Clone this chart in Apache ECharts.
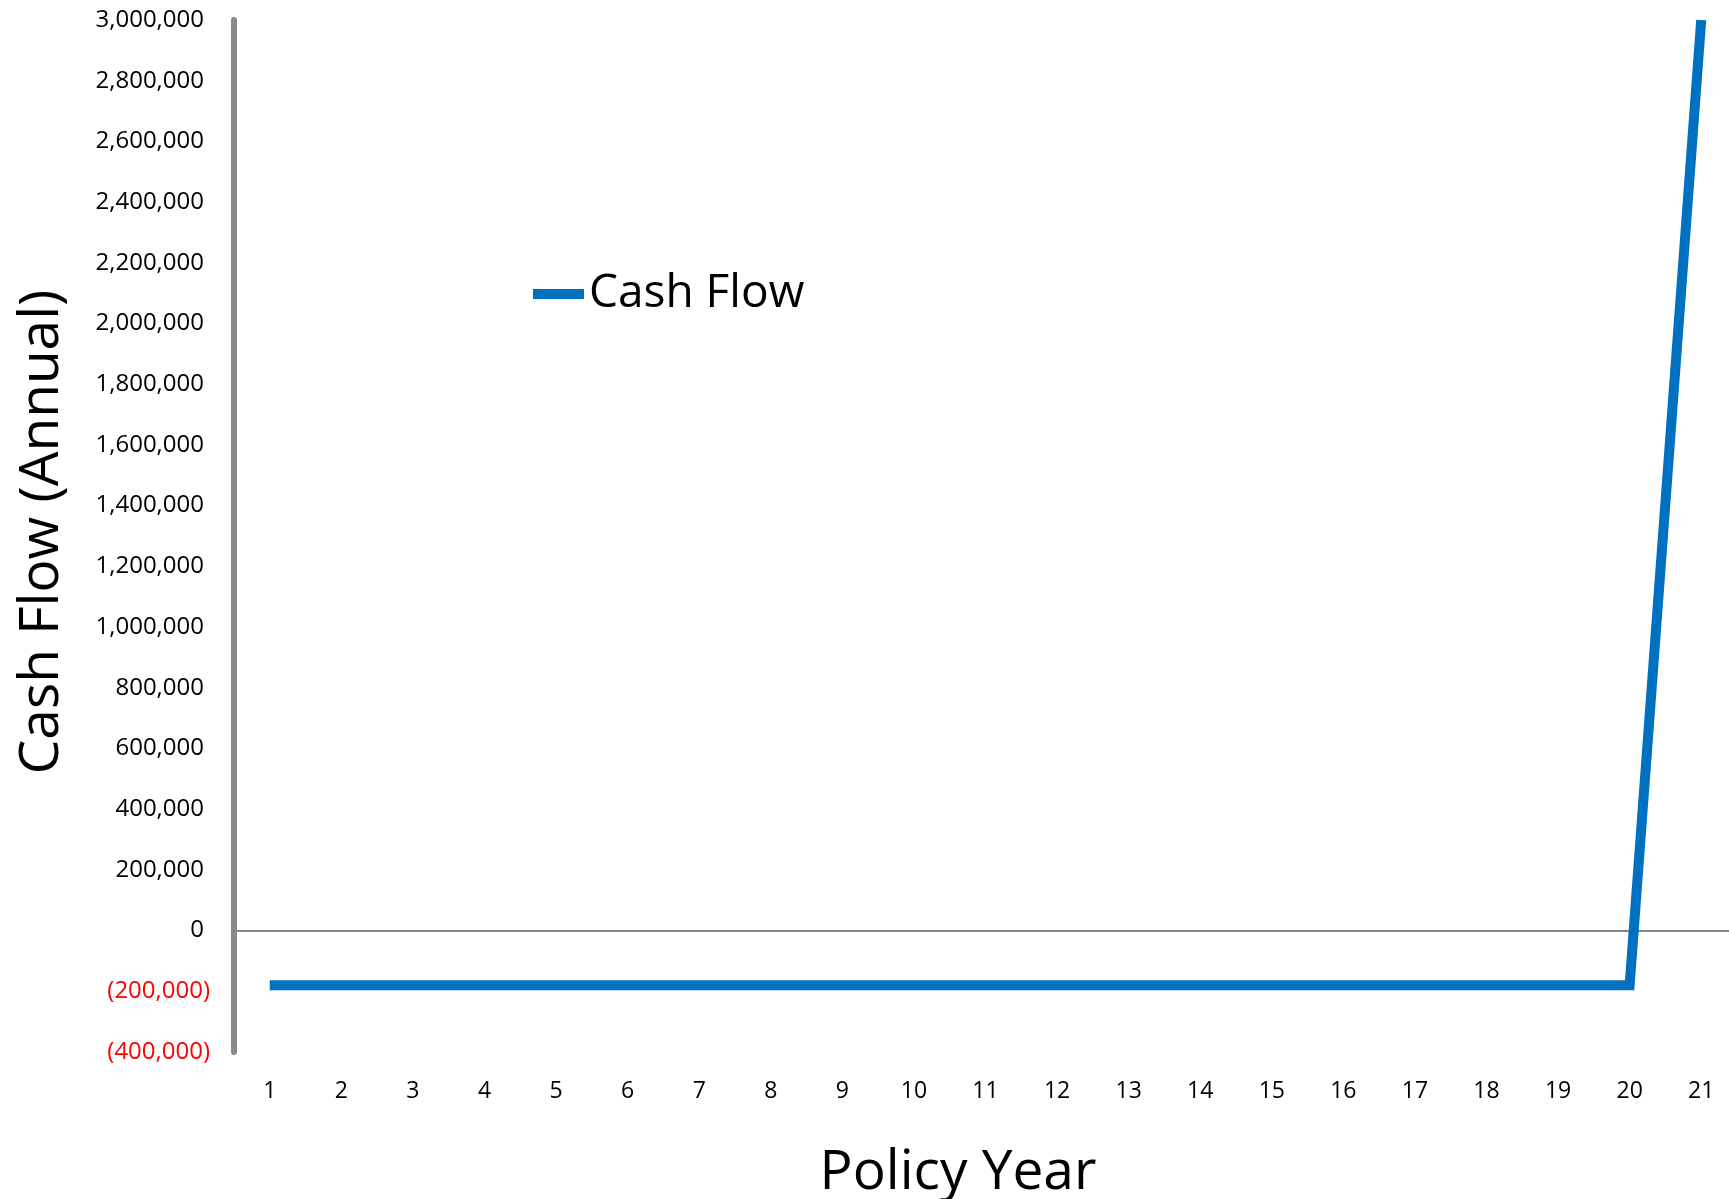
<!DOCTYPE html>
<html>
<head>
<meta charset="utf-8">
<title>Cash Flow (Annual)</title>
<script src="https://cdn.jsdelivr.net/npm/echarts@6/dist/echarts.min.js"></script>
<style>
  html, body { margin: 0; padding: 0; background: #ffffff; }
  #chart { width: 1729px; height: 1199px; }
</style>
</head>
<body>
<div id="chart"></div>
<script>
// Policy years on the category axis
const policyYears = ['1','2','3','4','5','6','7','8','9','10','11','12','13','14','15','16','17','18','19','20','21'];
// Annual cash flow per policy year
const cashFlow = [
  -180000, -180000, -180000, -180000, -180000, -180000, -180000,
  -180000, -180000, -180000, -180000, -180000, -180000, -180000,
  -180000, -180000, -180000, -180000, -180000, -180000, 3000000
];
// Value axis range
const yMin = -400000;
const yMax = 3000000;
const yStep = 200000;

const fmtNumber = v => Math.abs(v).toString().replace(/\B(?=(\d{3})+(?!\d))/g, ',');

const chart = echarts.init(document.getElementById('chart'), null, { renderer: 'canvas' });

chart.setOption({
  backgroundColor: '#ffffff',
  animation: false,
  grid: {
    left: 234, top: 20, width: 1503, height: 1032,
    containLabel: false,
    outerBoundsMode: 'none'
  },
  legend: {
    left: 528,
    top: 266,
    itemWidth: 51,
    itemHeight: 10,
    icon: 'rect',
    textStyle: { fontFamily: 'Open Sans', fontSize: 46, color: '#000000' },
    data: [{ name: 'Cash Flow', itemStyle: { color: '#0070C0' } }]
  },
  xAxis: {
    type: 'category',
    data: policyYears,
    boundaryGap: true,
    axisLine: { show: false },
    axisTick: { show: false },
    splitLine: { show: false },
    axisLabel: {
      margin: 28,
      fontFamily: 'Open Sans',
      fontSize: 23,
      color: '#000000',
      interval: 0
    }
  },
  yAxis: {
    type: 'value',
    min: yMin,
    max: yMax,
    interval: yStep,
    axisLine: { show: true, lineStyle: { color: '#898989', width: 6 } },
    axisTick: { show: false },
    splitLine: { show: false },
    axisLabel: {
      margin: 24,
      fontFamily: 'Open Sans',
      fontSize: 24,
      // accounting style: negatives in red parentheses, positives leave room for ")"
      formatter: v => (v < 0 ? '{neg|(' + fmtNumber(v) + ')}' : '{pos|' + fmtNumber(v) + '}'),
      rich: {
        neg: { fontFamily: 'Open Sans', fontSize: 24, color: '#FF0000' },
        pos: { fontFamily: 'Open Sans', fontSize: 24, color: '#000000', padding: [0, 6, 0, 0] }
      }
    }
  },
  graphic: [
    {
      type: 'text',
      x: 42,
      y: 532,
      rotation: Math.PI / 2,
      style: {
        text: 'Cash Flow (Annual)',
        font: '55px "Open Sans"',
        fill: '#000000',
        align: 'center',
        verticalAlign: 'middle',
        textAlign: 'center',
        textVerticalAlign: 'middle'
      }
    },
    {
      type: 'text',
      x: 958,
      y: 1173,
      style: {
        text: 'Policy Year',
        font: '55px "Open Sans"',
        fill: '#000000',
        align: 'center',
        verticalAlign: 'middle',
        textAlign: 'center',
        textVerticalAlign: 'middle'
      }
    }
  ],
  series: [
    {
      name: 'Cash Flow',
      type: 'line',
      data: cashFlow,
      symbol: 'none',
      clip: true,
      lineStyle: { color: '#0070C0', width: 10, join: 'miter' },
      itemStyle: { color: '#0070C0' },
      z: 3,
      markLine: {
        silent: true,
        symbol: ['none', 'none'],
        label: { show: false },
        lineStyle: { color: '#868686', width: 2, type: 'solid' },
        data: [{ yAxis: 0 }],
        z: 1
      }
    }
  ]
});
</script>
</body>
</html>
